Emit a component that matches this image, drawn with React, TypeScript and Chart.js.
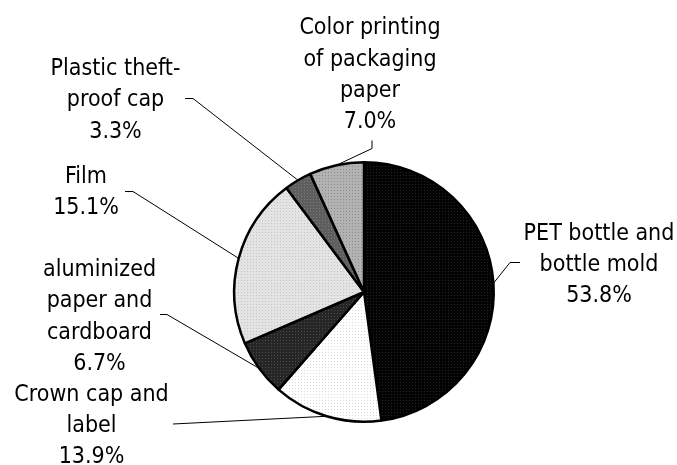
import React, { useEffect, useRef } from "react";
import { Chart, registerables } from "chart.js";

Chart.register(...registerables);

// Categories (clockwise from 12 o'clock)
const categories: string[][] = [
  ["PET bottle and", "bottle mold"],
  ["Crown cap and", "label"],
  ["aluminized", "paper and", "cardboard"],
  ["Film"],
  ["Plastic theft-", "proof cap"],
  ["Color printing", "of packaging", "paper"],
];

// Slice shares as drawn in the picture (percent of the circle)
const sliceShares: number[] = [47.9, 13.6, 7.1, 21.3, 3.4, 6.8];

// Percent labels as printed on the chart
const labelPercents: string[] = ["53.8%", "13.9%", "6.7%", "15.1%", "3.3%", "7.0%"];

// Fill styles: [base colour, dot colour]
const fills: [string, string][] = [
  ["#030303", "#242424"],
  ["#ffffff", "#dadada"],
  ["#262626", "#4a4a4a"],
  ["#e4e4e4", "#c4c4c4"],
  ["#5e5e5e", "#7a7a7a"],
  ["#b2b2b2", "#8e8e8e"],
];

// Label layout: centre x, first baseline y, leader elbow and end
const labelLayout = [
  { x: 599, y: 239.5, elbow: [510, 262], end: [520, 262] },
  { x: 91.5, y: 400.7, elbow: [173, 423.5], end: [173, 423.5] },
  { x: 99.5, y: 276, elbow: [167, 314], end: [160, 314] },
  { x: 86, y: 182.7, elbow: [133, 191], end: [125, 191] },
  { x: 115.5, y: 75, elbow: [193, 98], end: [185, 98] },
  { x: 370, y: 34.3, elbow: [372, 148], end: [372, 140] },
];

const FONT = '23px "DejaVu Sans Condensed", "DejaVu Sans"';
const LINE_H = 31.3;

function makePattern(base: string, dot: string): CanvasPattern | string {
  const c = document.createElement("canvas");
  c.width = 3;
  c.height = 3;
  const g = c.getContext("2d");
  if (!g) return base;
  g.fillStyle = base;
  g.fillRect(0, 0, 3, 3);
  g.fillStyle = dot;
  g.fillRect(1, 1, 1, 1);
  const p = g.createPattern(c, "repeat");
  return p || base;
}

const labelPlugin = {
  id: "pieLabels",
  afterDraw(chart: any) {
    const ctx = chart.ctx as CanvasRenderingContext2D;
    const meta = chart.getDatasetMeta(0);
    ctx.save();
    // leader lines
    ctx.strokeStyle = "#000";
    ctx.lineWidth = 1;
    meta.data.forEach((arc: any, i: number) => {
      const mid = (arc.startAngle + arc.endAngle) / 2;
      const r = arc.outerRadius;
      const sx = arc.x + Math.cos(mid) * r;
      const sy = arc.y + Math.sin(mid) * r;
      const L = labelLayout[i];
      ctx.beginPath();
      ctx.moveTo(sx, sy);
      ctx.lineTo(L.elbow[0], L.elbow[1] + 0.5);
      ctx.lineTo(L.end[0], L.end[1] + 0.5);
      ctx.stroke();
    });
    // texts
    ctx.fillStyle = "#000";
    ctx.font = FONT;
    ctx.textAlign = "center";
    ctx.textBaseline = "alphabetic";
    categories.forEach((lines, i) => {
      const L = labelLayout[i];
      const all = [...lines, labelPercents[i]];
      all.forEach((t, k) => {
        ctx.fillText(t, L.x, L.y + k * LINE_H);
      });
    });
    ctx.restore();
  },
};

export default function App() {
  const ref = useRef<HTMLCanvasElement | null>(null);
  useEffect(() => {
    document.body.style.margin = "0";
    const canvas = ref.current;
    if (!canvas) return;
    const chart = new Chart(canvas, {
      type: "pie",
      data: {
        labels: categories.map((l) => l.join(" ")),
        datasets: [
          {
            data: sliceShares,
            backgroundColor: fills.map(([b, d]) => makePattern(b, d)) as any,
            borderColor: "#000",
            borderWidth: 2.5,
          },
        ],
      },
      options: {
        responsive: false,
        animation: false,
        events: [],
        layout: { padding: { left: 233, right: 182, top: 161, bottom: 42 } },
        plugins: {
          legend: { display: false },
          tooltip: { enabled: false },
        },
      },
      plugins: [labelPlugin],
    });
    return () => chart.destroy();
  }, []);
  return (
    <div style={{ position: "fixed", left: 0, top: 0, width: 677, height: 465, background: "#fff" }}>
      <canvas ref={ref} width={677} height={465} style={{ width: 677, height: 465 }} />
    </div>
  );
}
